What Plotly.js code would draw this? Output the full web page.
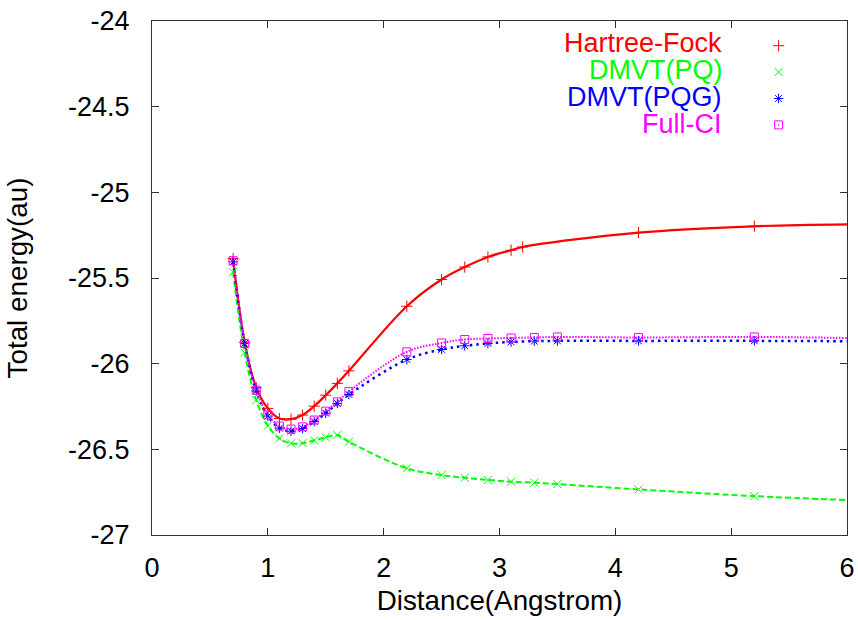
<!DOCTYPE html>
<html>
<head>
<meta charset="utf-8">
<script src="https://cdn.plot.ly/plotly-3.0.1.min.js"></script>
<style>html,body{margin:0;padding:0;background:#fff;}#chart{width:858px;height:620px;}</style>
</head>
<body>
<div id="chart"></div>
<script>
// ---- data ----
const distHF = [0.7,0.8,0.9,1.0,1.1,1.2,1.3,1.4,1.5,1.6,1.7,2.2,2.5,2.7,2.9,3.1,3.2,4.2,5.2];
const hartreeFock = [-25.387,-25.875,-26.140,-26.261,-26.320,-26.324,-26.300,-26.248,-26.184,-26.115,-26.042,-25.665,-25.509,-25.436,-25.377,-25.338,-25.319,-25.235,-25.198];

const dist = [0.7,0.8,0.9,1.0,1.1,1.2,1.3,1.4,1.5,1.6,1.7,2.2,2.5,2.7,2.9,3.1,3.3,3.5,4.2,5.2];
const dmvtPQ = [-25.465,-25.936,-26.213,-26.362,-26.436,-26.465,-26.464,-26.448,-26.430,-26.417,-26.456,-26.611,-26.650,-26.666,-26.679,-26.689,-26.695,-26.703,-26.734,-26.773];
const dmvtPQG = [-25.406,-25.882,-26.160,-26.306,-26.376,-26.394,-26.379,-26.338,-26.289,-26.232,-26.180,-25.976,-25.917,-25.896,-25.882,-25.873,-25.869,-25.867,-25.867,-25.867];
const fullCI = [-25.399,-25.882,-26.155,-26.300,-26.364,-26.382,-26.369,-26.329,-26.277,-26.223,-26.163,-25.931,-25.879,-25.859,-25.853,-25.850,-25.847,-25.844,-25.847,-25.844];

// curve values where the smooth lines leave the frame at the right edge
const edgeX = 6;
const edgeHF = -25.187, edgePQ = -26.796, edgePQG = -25.869, edgeFCI = -25.850;

const seriesNames = ['Hartree-Fock','DMVT(PQ)','DMVT(PQG)','Full-CI'];
const yTickVals = [-27,-26.5,-26,-25.5,-25,-24.5,-24];
const yTickText = ['-27','-26.5','-26','-25.5','-25','-24.5','-24'];
const xTickVals = [0,1,2,3,4,5,6];
const xTickText = ['0','1','2','3','4','5','6'];

// ---- styles ----
const colors = ['#ff0000','#00ff00','#0000ff','#ff00ff'];
const symbols = ['cross-thin-open','x-thin-open','asterisk-open','square-open-dot'];
const dashes = ['solid','6px,3px','2.5px,4px','1.5px,1.5px'];
const widths = [2.2,2,2.5,2];

const xs = [distHF, dist, dist, dist];
const ys = [hartreeFock, dmvtPQ, dmvtPQG, fullCI];
const edges = [edgeHF, edgePQ, edgePQG, edgeFCI];

const traces = [];
for (let i = 0; i < 4; i++) {
  traces.push({
    x: xs[i].concat([edgeX]), y: ys[i].concat([edges[i]]),
    type: 'scatter', mode: 'lines', showlegend: false, hoverinfo: 'skip',
    line: {color: colors[i], width: widths[i], dash: dashes[i], shape: 'spline', smoothing: 1}
  });
}
for (let i = 0; i < 4; i++) {
  traces.push({
    x: xs[i], y: ys[i], name: ' ', type: 'scatter', mode: 'markers', showlegend: true,
    marker: {symbol: symbols[i], size: 8, color: colors[i], line: {color: colors[i], width: 1}}
  });
}

const FONT = 'Liberation Sans, Arial, sans-serif';
const annotations = seriesNames.map((n, i) => ({
  xref: 'paper', yref: 'paper', x: (724 - 151.7) / 695.8, y: 1 - (43 + 27 * i - 20.5) / 514.5,
  xanchor: 'right', yanchor: 'middle', text: n, showarrow: false,
  font: {family: FONT, size: 27, color: colors[i]}
}));

const layout = {
  width: 858, height: 620,
  margin: {l: 151.7, r: 10.5, t: 20.5, b: 85, pad: 0},
  paper_bgcolor: '#fff', plot_bgcolor: '#fff',
  font: {family: FONT, size: 27, color: '#000'},
  showlegend: true,
  legend: {x: (759 - 151.7) / 695.8, y: 1 - (27 - 20.5) / 514.5, xanchor: 'left', yanchor: 'top',
           bgcolor: 'rgba(0,0,0,0)', font: {size: 18}, tracegroupgap: 0, itemwidth: 30, traceorder: 'normal'},
  xaxis: {range: [0, 6], tickvals: xTickVals, ticktext: xTickText, ticks: 'inside', ticklen: 7,
          tickcolor: '#333', showline: true, linecolor: '#333', linewidth: 1, mirror: 'ticks',
          showgrid: false, zeroline: false, ticklabelstandoff: 9,
          title: {text: 'Distance(Angstrom)', font: {size: 27.8}, standoff: 8}},
  yaxis: {range: [-27, -24], tickvals: yTickVals, ticktext: yTickText, ticks: 'inside', ticklen: 7,
          tickcolor: '#333', showline: true, linecolor: '#333', linewidth: 1, mirror: 'ticks',
          showgrid: false, zeroline: false, ticklabelstandoff: 16,
          title: {text: 'Total energy(au)', font: {size: 27.8}, standoff: 32}},
  annotations: annotations
};

Plotly.newPlot('chart', traces, layout, {displayModeBar: false, staticPlot: true});
</script>
</body>
</html>
